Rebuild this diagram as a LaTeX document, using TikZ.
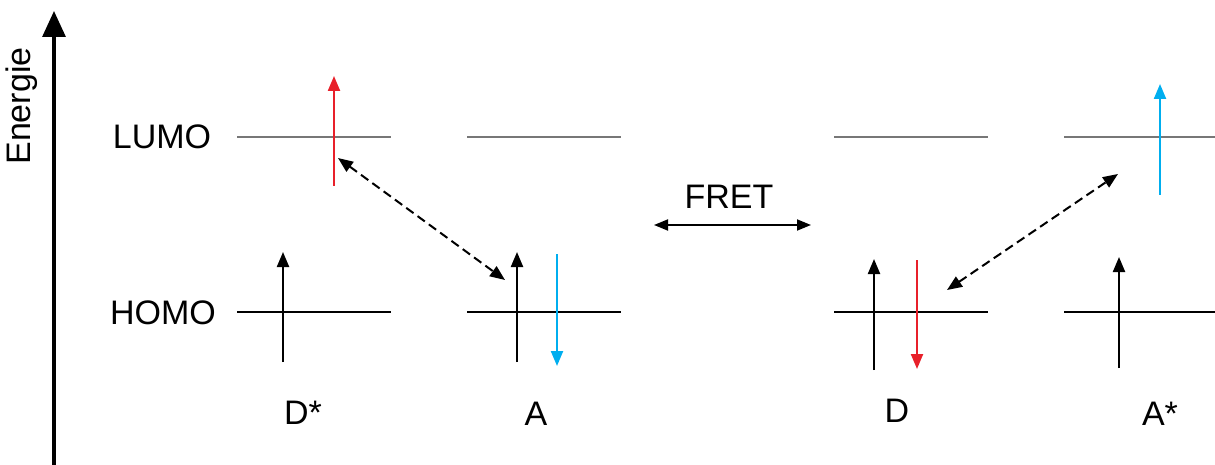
\documentclass[tikz,border=0pt]{standalone}
\usepackage{fontspec}
\setmainfont{Liberation Sans}
\usetikzlibrary{arrows.meta}
\definecolor{fred}{HTML}{E8202A}
\definecolor{fblue}{HTML}{00AEEF}
\definecolor{lgray}{HTML}{777777}
\begin{document}
\begin{tikzpicture}[x=1pt,y=-1pt,
  lbl/.style={font=\fontsize{34}{40}\selectfont, inner sep=0pt},
  lumo/.style={draw=lgray, line width=1.5pt},
  homo/.style={draw=black, line width=1.3pt},
  spin/.style={line width=2.2pt, -{Triangle[length=15pt,width=12pt]}},
  transfer/.style={line width=2pt, dash pattern=on 9pt off 5pt, {Triangle[length=15pt,width=12pt]}-{Triangle[length=15pt,width=12pt]}}
]
\useasboundingbox (0,0) rectangle (1215,465);
% axis
\coordinate (ax0) at (54,465);
\coordinate (ax1) at (54,11);
\draw[line width=3.2pt, -{Triangle[length=26pt,width=23pt]}] (ax0) -- (ax1);
\node[lbl, rotate=90] (energie) at (22,106) {Energie};
\node[lbl] (lumolbl) at (162,137) {LUMO};
\node[lbl] (homolbl) at (163,313) {HOMO};
% levels
\coordinate (l1a) at (237,137); \coordinate (l1b) at (391,137);
\coordinate (l2a) at (467,137); \coordinate (l2b) at (621,137);
\coordinate (l3a) at (834,137); \coordinate (l3b) at (988,137);
\coordinate (l4a) at (1064,137); \coordinate (l4b) at (1215,137);
\coordinate (h1a) at (237,312); \coordinate (h1b) at (391,312);
\coordinate (h2a) at (467,312); \coordinate (h2b) at (621,312);
\coordinate (h3a) at (834,312); \coordinate (h3b) at (988,312);
\coordinate (h4a) at (1064,312); \coordinate (h4b) at (1215,312);
\draw[lumo] (l1a) -- (l1b);
\draw[lumo] (l2a) -- (l2b);
\draw[lumo] (l3a) -- (l3b);
\draw[lumo] (l4a) -- (l4b);
\draw[homo] (h1a) -- (h1b);
\draw[homo] (h2a) -- (h2b);
\draw[homo] (h3a) -- (h3b);
\draw[homo] (h4a) -- (h4b);
% D*
\coordinate (s1a) at (283,362); \coordinate (s1b) at (283,252);
\coordinate (s2a) at (334,186); \coordinate (s2b) at (334,76);
\draw[spin] (s1a) -- (s1b);
\draw[spin, fred] (s2a) -- (s2b);
% A
\coordinate (s3a) at (517,362); \coordinate (s3b) at (517,252);
\coordinate (s4a) at (557,254); \coordinate (s4b) at (557,366);
\draw[spin] (s3a) -- (s3b);
\draw[spin, fblue] (s4a) -- (s4b);
% D
\coordinate (s5a) at (874,370); \coordinate (s5b) at (874,259);
\coordinate (s6a) at (917,260); \coordinate (s6b) at (917,369);
\draw[spin] (s5a) -- (s5b);
\draw[spin, fred] (s6a) -- (s6b);
% A*
\coordinate (s7a) at (1119,368); \coordinate (s7b) at (1119,257);
\coordinate (s8a) at (1160,195); \coordinate (s8b) at (1160,84);
\draw[spin] (s7a) -- (s7b);
\draw[spin, fblue] (s8a) -- (s8b);
% transfers
\coordinate (t1a) at (338,158); \coordinate (t1b) at (505,280);
\coordinate (t2a) at (947,290); \coordinate (t2b) at (1118,174);
\draw[transfer] (t1a) -- (t1b);
\draw[transfer] (t2a) -- (t2b);
% FRET
\node[lbl] (fret) at (729,197) {FRET};
\coordinate (f1) at (654,225); \coordinate (f2) at (811,225);
\draw[line width=1.8pt, {Triangle[length=14pt,width=11pt]}-{Triangle[length=14pt,width=11pt]}] (f1) -- (f2);
% labels
\node[lbl] (dstar) at (303,413) {D*};
\node[lbl] (a) at (536,414) {A};
\node[lbl] (d) at (897,411) {D};
\node[lbl] (astar) at (1160,414) {A*};
\end{tikzpicture}
\end{document}
